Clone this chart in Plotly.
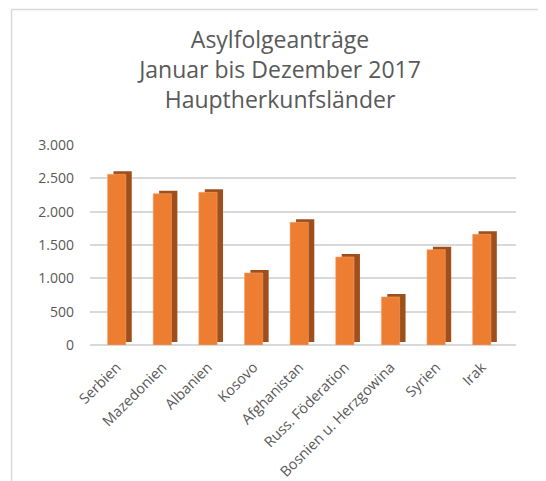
import plotly.graph_objects as go

countries = ["Serbien", "Mazedonien", "Albanien", "Kosovo", "Afghanistan",
             "Russ. Föderation", "Bosnien u. Herzgowina", "Syrien", "Irak"]
antraege = [2560, 2270, 2290, 1080, 1840, 1320, 720, 1430, 1660]
y_ticks = [0, 500, 1000, 1500, 2000, 2500, 3000]

# page body has an 8px margin, so the figure is 8px smaller than the window
W, H = 538, 473
L, R, T, B = 82, 30, 137, 136
FRONT = "#ED7D31"
SIDE = "#9E4F1C"
GREY = "#595959"

fig = go.Figure()
# side / depth face of the 3D columns
fig.add_trace(go.Bar(x=countries, y=antraege, base=45, width=0.4, offset=-0.07,
                     marker=dict(color=SIDE, line=dict(width=0)),
                     hoverinfo="skip", showlegend=False))
# front face
fig.add_trace(go.Bar(x=countries, y=antraege, width=0.4, offset=-0.2,
                     marker=dict(color=FRONT, line=dict(color="#F4A36E", width=0.6)),
                     name="Asylfolgeanträge", showlegend=False))

pw, ph = W - L - R, H - T - B
fig.update_layout(
    width=W, height=H,
    margin=dict(l=L, r=R, t=T, b=B, pad=0, autoexpand=False),
    barmode="overlay",
    paper_bgcolor="white", plot_bgcolor="white",
    separators=",.",
    font=dict(family="Open Sans", color=GREY, size=14),
    title=dict(text="Asylfolgeanträge<br>Januar bis Dezember 2017<br>Hauptherkunfsländer",
               x=(280 - 8) / W, xanchor="center", xref="container",
               y=1 - 40 / H, yanchor="top", yref="container",
               font=dict(family="Open Sans", size=23, color=GREY)),
    xaxis=dict(type="category", range=[-0.585, 8.75], tickangle=-45,
               automargin=False,
               showgrid=False, showline=False, zeroline=False, ticks="",
               ticklabelstandoff=10,
               tickfont=dict(size=14.5, color=GREY)),
    yaxis=dict(range=[0, 3000], tickvals=y_ticks, tickformat=",d",
               separatethousands=True, automargin=False,
               showgrid=True, gridcolor="#D9D9D9", gridwidth=1.5,
               zeroline=True, zerolinecolor="#D9D9D9", zerolinewidth=1.5,
               showline=False, ticks="", ticklabelstandoff=15,
               tickfont=dict(size=14, color=GREY)),
    shapes=[
        dict(type="line", xref="paper", yref="paper",
             x0=(3.5 - L) / pw, x1=(W - L) / pw,
             y0=(H - 1.5 - B) / ph, y1=(H - 1.5 - B) / ph,
             line=dict(color="#D9D9D9", width=1.5)),
        dict(type="line", xref="paper", yref="paper",
             x0=(3.5 - L) / pw, x1=(3.5 - L) / pw,
             y0=(H - 1.5 - B) / ph, y1=-B / ph,
             line=dict(color="#D9D9D9", width=1.5)),
    ],
)

fig.write_html("out.html", config={"displayModeBar": False})
